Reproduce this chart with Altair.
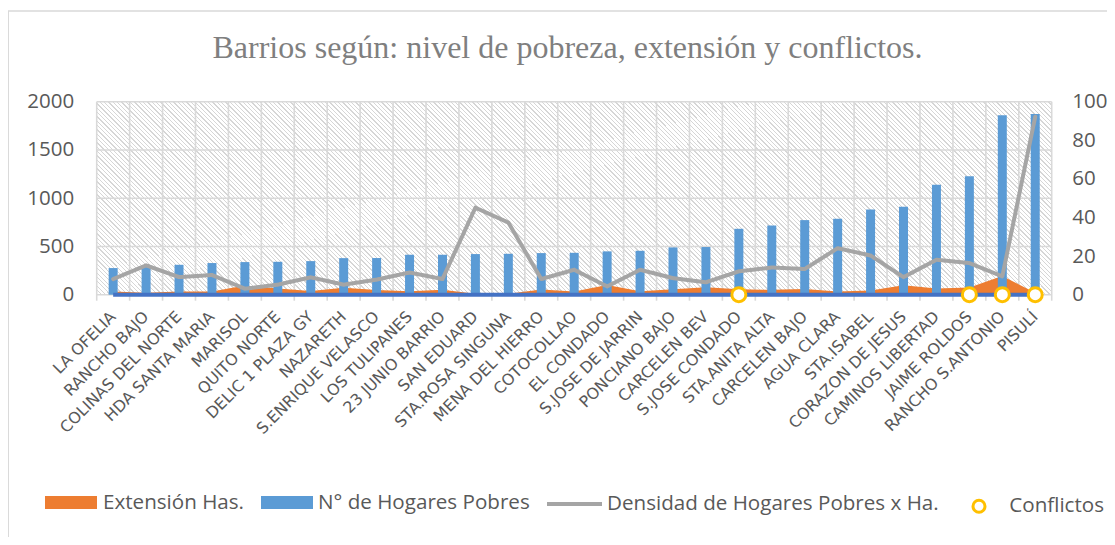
import altair as alt
import pandas as pd

# ---------------- data ----------------
barrios = ["LA OFELIA", "RANCHO BAJO", "COLINAS DEL NORTE", "HDA SANTA MARIA", "MARISOL",
           "QUITO NORTE", "DELIC 1 PLAZA GY", "NAZARETH", "S.ENRIQUE VELASCO", "LOS TULIPANES",
           "23 JUNIO BARRIO", "SAN EDUARD", "STA.ROSA SINGUNA", "MENA DEL HIERRO", "COTOCOLLAO",
           "EL CONDADO", "S.JOSE DE JARRIN", "PONCIANO BAJO", "CARCELEN BEV", "S.JOSE CONDADO",
           "STA.ANITA ALTA", "CARCELEN BAJO", "AGUA CLARA", "STA.ISABEL", "CORAZON DE JESUS",
           "CAMINOS  LIBERTAD", "JAIME ROLDOS", "RANCHO S.ANTONIO", "PISULÍ"]
hogares = [276, 300, 310, 328, 338, 341, 348, 379, 380, 414, 414, 421, 424, 431, 434,
           449, 455, 490, 494, 683, 717, 773, 787, 883, 911, 1139, 1228, 1860, 1873]
extension = [34, 20, 34, 32, 95, 64, 39, 73, 49, 36, 51, 9, 11, 53, 34,
             100, 35, 57, 77, 56, 51, 58, 33, 43, 98, 63, 75, 195, 20]
densidad = [8.1, 15.2, 9.1, 10.2, 3.1, 5.2, 9.0, 5.2, 7.8, 11.5, 8.1, 45.1, 37.4, 8.1, 12.9,
            4.3, 12.9, 8.6, 6.4, 12.1, 14.1, 13.3, 24.1, 20.3, 9.1, 18.1, 16.4, 9.5, 92.2]
conflictos = [0] * 19 + [1] + [0] * 6 + [1, 1, 1]

left_ticks = [0, 500, 1000, 1500, 2000]
right_ticks = [0, 20, 40, 60, 80, 100]

titulo = "Barrios según: nivel de pobreza, extensión y conflictos."
serie_ext = "Extensión Has."
serie_hog = "N° de Hogares Pobres"
serie_den = "Densidad de Hogares Pobres x Ha."
serie_con = "Conflictos"

df = pd.DataFrame({"barrio": barrios, "hogares": hogares, "extension": extension,
                   "densidad": densidad, "conflicto": conflictos})
df_ticks = pd.DataFrame({"t": left_ticks})
df_one = pd.DataFrame({"titulo": [titulo]})

W, H = 955, 193
GRID = "#d9d9d9"
TXT = "#595959"
LEG_FS = 20.6

# ---------------- hatched background (gradient stripes) ----------------
N = 265
frac = 0.30
stops = []
for k in range(N):
    a, b, c = k / N, (k + frac) / N, (k + 1) / N
    stops += [alt.GradientStop(color="#d6d6d6", offset=round(a, 6)),
              alt.GradientStop(color="#d6d6d6", offset=round(b, 6)),
              alt.GradientStop(color="#ffffff", offset=round(b, 6)),
              alt.GradientStop(color="#ffffff", offset=round(c, 6))]
hatch = alt.LinearGradient(gradient="linear", stops=stops, x1=0, y1=1, x2=1.155, y2=0.767)

xscale = alt.Scale(domain=barrios, paddingInner=0, paddingOuter=0)
xaxis = alt.Axis(labelAngle=-45, labelAlign="right", labelBaseline="middle",
                 labelFont="DejaVu Sans", labelFontSize=15.8, labelColor=TXT,
                 labelPadding=19, ticks=False, domain=False, grid=False, title=None,
                 labelOverlap=False, labelLimit=300)


def X(**kw):
    return alt.X("barrio:N", sort=barrios, scale=xscale, axis=xaxis, **kw)


lscale = alt.Scale(domain=[0, 2000], nice=False)
rscale = alt.Scale(domain=[0, 100], nice=False)
laxis = alt.Axis(values=left_ticks, format="d", labelFont="Open Sans", labelFontSize=20.5,
                 labelColor=TXT, labelPadding=23, ticks=False, domain=False,
                 grid=False, title=None, labelOverlap=False, labelFlush=False)
raxis = alt.Axis(orient="right", values=right_ticks, format="d", labelFont="Open Sans",
                 labelFontSize=20.5, labelColor=TXT, labelPadding=20, ticks=False,
                 domain=False, grid=False, title=None, labelOverlap=False, labelFlush=False)

bg = alt.Chart(df_one).mark_rect(fill=hatch).encode(
    x=alt.value(0), x2=alt.value(W), y=alt.value(0), y2=alt.value(H))

vgrid = alt.Chart(df).mark_rule(color=GRID, strokeWidth=1.6).encode(
    x=X(bandPosition=0), y=alt.value(0), y2=alt.value(H + 6))
vedge = alt.Chart(df_one).mark_rule(color=GRID, strokeWidth=1.6).encode(
    x=alt.value(W), y=alt.value(0), y2=alt.value(H + 6))
hgrid = alt.Chart(df_ticks).mark_rule(color=GRID, strokeWidth=1.6).encode(
    y=alt.Y("t:Q", scale=lscale, axis=laxis))

area = alt.Chart(df).transform_calculate(s=f"'{serie_ext}'").mark_area(
    interpolate="linear").encode(
    x=X(),
    y=alt.Y("extension:Q", scale=lscale, axis=laxis),
    fill=alt.Fill("s:N", scale=alt.Scale(domain=[serie_ext], range=["#ED7D31"]),
                  legend=alt.Legend(orient="none", legendX=-51.7, legendY=374.8, title=None,
                                    symbolType="M-1,-0.25H1V0.25H-1Z", symbolSize=2704,
                                    symbolStrokeWidth=0, labelFont="Open Sans",
                                    labelFontSize=LEG_FS, labelColor=TXT, labelOffset=6,
                                    labelLimit=500, padding=0)))

bars = alt.Chart(df).transform_calculate(s=f"'{serie_hog}'").mark_bar(size=9).encode(
    x=X(),
    y=alt.Y("hogares:Q", scale=lscale, axis=laxis),
    color=alt.Color("s:N", scale=alt.Scale(domain=[serie_hog], range=["#5B9BD5"]),
                    legend=alt.Legend(orient="none", legendX=164.3, legendY=374.8, title=None,
                                      symbolType="M-1,-0.25H1V0.25H-1Z", symbolSize=2704,
                                      symbolStrokeWidth=0, labelFont="Open Sans",
                                      labelFontSize=LEG_FS, labelColor=TXT, labelOffset=5,
                                      labelLimit=500, padding=0)))

title_txt = alt.Chart(df_one).mark_text(font="Liberation Serif", fontSize=32, color="#7f7f7f",
                                        align="center", baseline="alphabetic").encode(
    text="titulo:N", x=alt.value(470.8), y=alt.value(-43.7))

frame = alt.Chart(df_one).mark_rect(fillOpacity=0, stroke=GRID, strokeWidth=1.3).encode(
    x=alt.value(-88.4), x2=alt.value(1200), y=alt.value(-90.7), y2=alt.value(700))

left = alt.layer(frame, bg, vgrid, vedge, hgrid, area, bars, title_txt)

base0 = alt.Chart(df).mark_line(color="#4472C4", strokeWidth=4).encode(
    x=X(), y=alt.datum(0, scale=rscale, axis=raxis))

line = alt.Chart(df).transform_calculate(s=f"'{serie_den}'").mark_line(
    color="#A5A5A5", strokeWidth=4, strokeJoin="round", strokeCap="round").encode(
    x=X(),
    y=alt.Y("densidad:Q", scale=rscale, axis=raxis),
    strokeDash=alt.StrokeDash("s:N", scale=alt.Scale(domain=[serie_den], range=[[1, 0]]),
                              legend=alt.Legend(orient="none", legendX=448.3, legendY=372.8,
                                                title=None, symbolType="stroke",
                                                symbolSize=3025, symbolStrokeWidth=4,
                                                symbolStrokeColor="#A5A5A5",
                                                labelFont="Open Sans", labelFontSize=LEG_FS,
                                                labelColor=TXT, labelOffset=3,
                                                labelLimit=500, padding=0)))

points = alt.Chart(df).transform_filter("datum.conflicto == 1").transform_calculate(
    s=f"'{serie_con}'").mark_point(filled=False, fill="white", fillOpacity=1, shape="circle",
                                    strokeWidth=3, size=196, opacity=1).encode(
    x=X(), y=alt.datum(0, scale=rscale, axis=raxis),
    stroke=alt.Stroke("s:N", scale=alt.Scale(domain=[serie_con], range=["#FFC000"]),
                      legend=alt.Legend(orient="none", legendX=872, legendY=394.3, title=None,
                                        symbolType="circle", symbolSize=144,
                                        symbolFillColor="white", symbolStrokeWidth=3,
                                        labelFont="Open Sans", labelFontSize=LEG_FS,
                                        labelColor=TXT, labelOffset=20, labelLimit=500,
                                        padding=0)))

right = alt.layer(base0, line, points)

chart = alt.layer(left, right).resolve_scale(y="independent").properties(
    width=W, height=H, autosize="none",
    padding={"left": 88.7, "top": 93.7, "right": 55.3, "bottom": 242.3},
    background="white"
).configure_view(stroke=None)

chart.save("out.html", embed_options={"renderer": "svg", "actions": False})
